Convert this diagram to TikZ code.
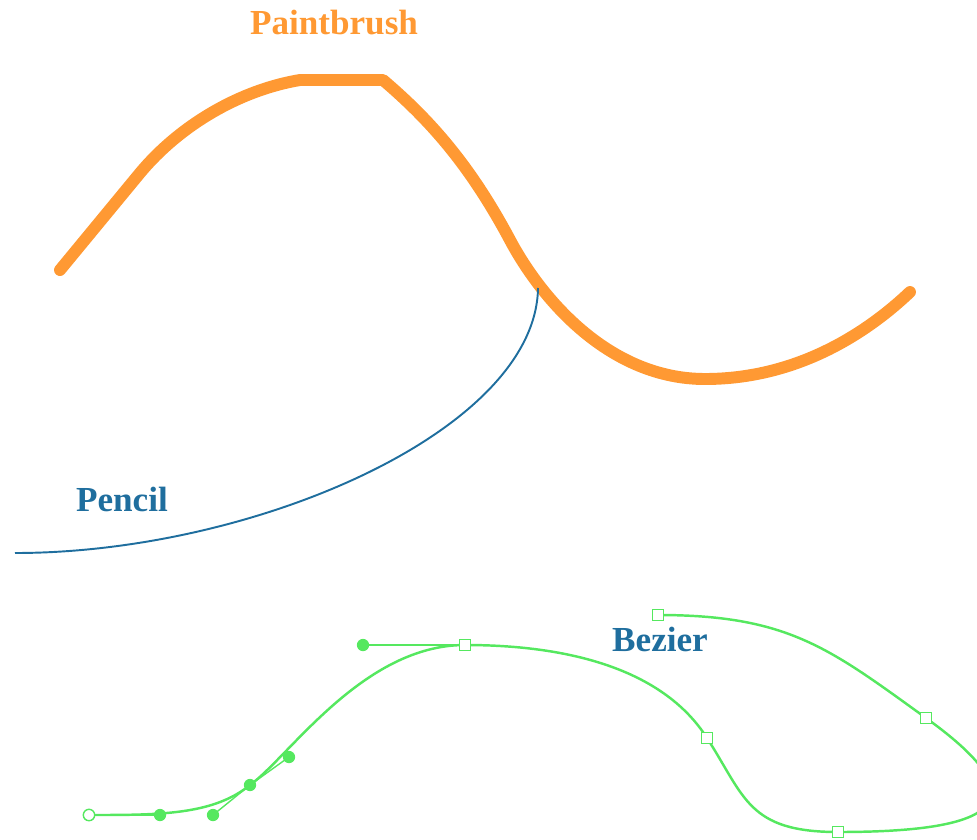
\documentclass[tikz,border=0pt]{standalone}
\usepackage{fontspec}
\setmainfont{Liberation Serif}
\usepackage{xcolor}
\definecolor{brushorange}{RGB}{255,153,51}
\definecolor{pencilblue}{RGB}{31,110,158}
\definecolor{bezgreen}{RGB}{85,232,95}
\begin{document}
\begin{tikzpicture}[
  x=0.02cm, y=-0.02cm,
  lbl/.style={font=\bfseries\fontsize{20}{24}\selectfont},
  brush/.style={brushorange, line width=6.8pt, line cap=round, line join=round},
  pen/.style={pencilblue, line width=1.1pt},
  curve/.style={bezgreen, line width=1.4pt},
  handle/.style={bezgreen, line width=0.8pt},
  dot/.style={circle, fill=bezgreen, inner sep=0pt, minimum size=7pt},
  ring/.style={circle, draw=bezgreen, fill=white, line width=0.8pt, inner sep=0pt, minimum size=6.5pt},
  anchorbox/.style={rectangle, draw=bezgreen, fill=white, line width=0.8pt, inner sep=0pt, minimum size=6.2pt}
]
\useasboundingbox (0,0) rectangle (977,839);
\clip (0,0) rectangle (977,839);

% paintbrush stroke
\draw[brush] (60,270) -- (140,173) .. controls (180,125) and (240,90) .. (300,80)
  -- (383,80) .. controls (430,120) and (470,165) .. (510,240)
  .. controls (542,300) and (610,379) .. (705,379)
  .. controls (800,379) and (870,330) .. (910,292);
\node[lbl, text=brushorange] (paint) at (334,23) {Paintbrush};

% pencil stroke
\draw[pen] (538,288) .. controls (536,430) and (255,553) .. (15,553);
\node[lbl, text=pencilblue] (pencil) at (122,499) {Pencil};

% bezier anchors and handles
\coordinate (b0) at (89,815);
\coordinate (h0) at (160,815);
\coordinate (h1a) at (213,815);
\coordinate (b1) at (250,785);
\coordinate (h1b) at (289,757);
\coordinate (h2a) at (363,645);
\coordinate (b2) at (465,645);
\coordinate (b3) at (707,738);
\coordinate (b4) at (838,832);
\coordinate (b5) at (926,718);
\coordinate (b6) at (658,615);

\draw[curve] (b0) .. controls (h0) and (h1a) .. (b1)
  .. controls (h1b) and (h2a) .. (b2)
  .. controls (575,645) and (665,672) .. (b3)
  .. controls (745,797) and (748,832) .. (b4)
  .. controls (990,832) and (1047,805) .. (b5)
  .. controls (829,648) and (788,615) .. (b6);

\draw[handle] (b0) -- (h0);
\draw[handle] (h1a) -- (b1) -- (h1b);
\draw[handle] (h2a) -- (b2);

\node[ring] (p0) at (b0) {};
\foreach \c/\n in {h0/d0, h1a/d1, b1/d2, h1b/d3, h2a/d4}
  \node[dot] (\n) at (\c) {};
\foreach \c/\n in {b2/s2, b3/s3, b4/s4, b5/s5, b6/s6}
  \node[anchorbox] (\n) at (\c) {};

\node[lbl, text=pencilblue] (bezier) at (660,639) {Bezier};
\end{tikzpicture}
\end{document}
